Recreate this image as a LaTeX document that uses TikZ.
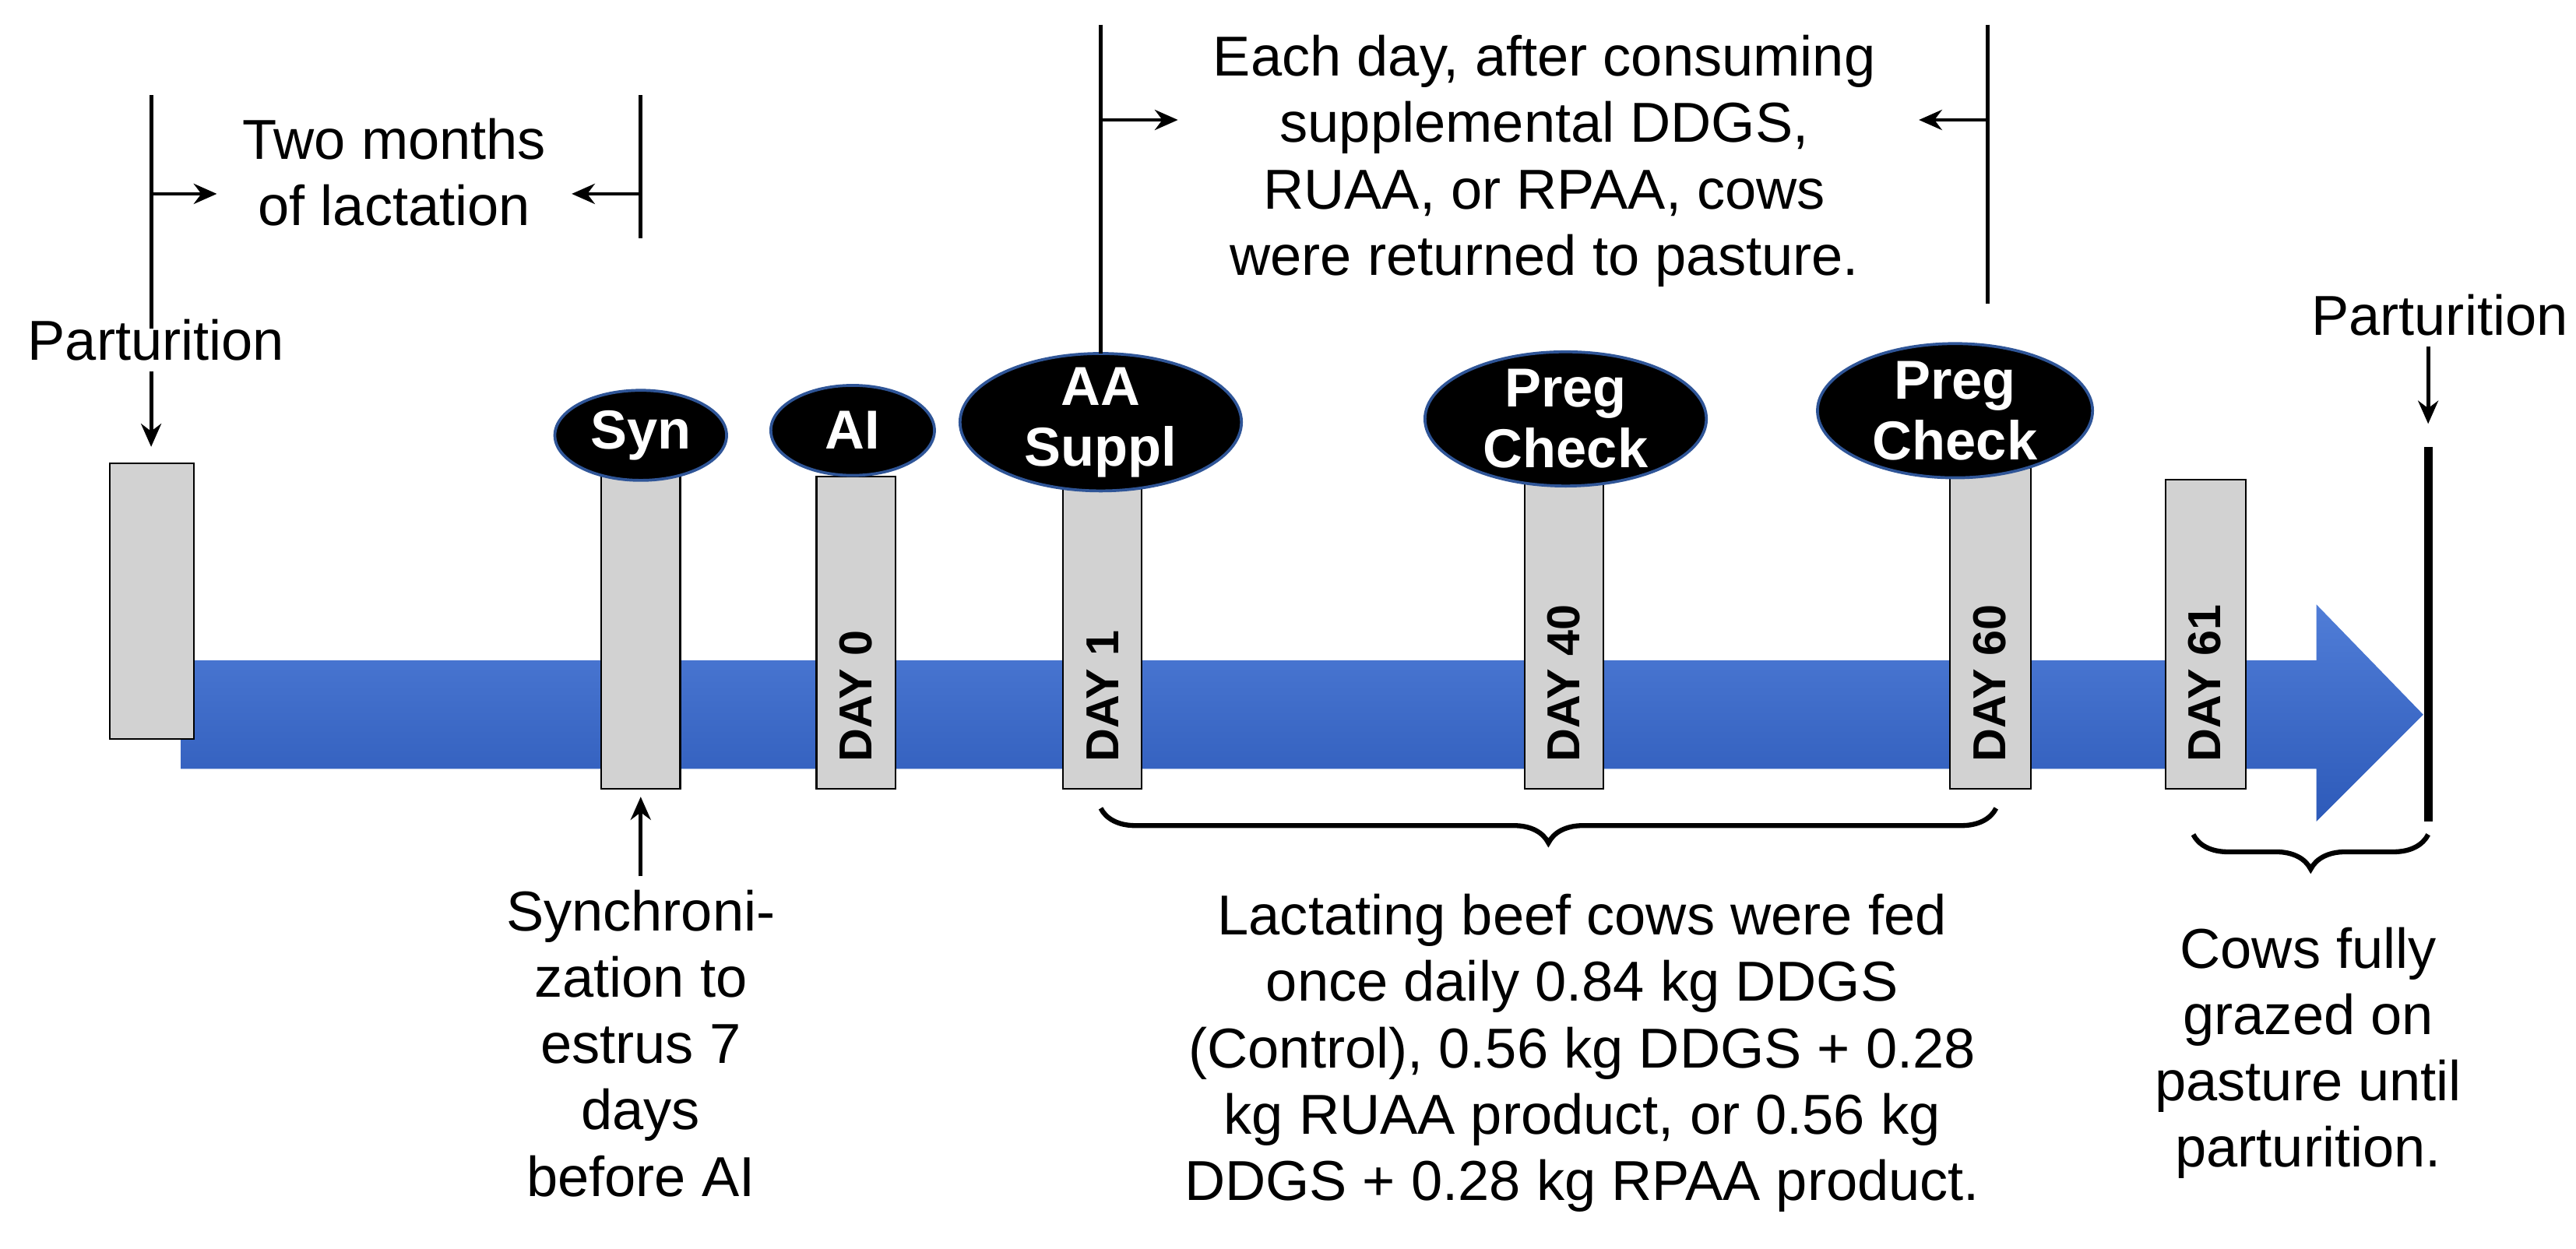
\documentclass[tikz,border=0pt]{standalone}
\usepackage{fontspec}
\setmainfont{Liberation Sans}
\usetikzlibrary{decorations.pathreplacing,arrows.meta,shapes.geometric}
\begin{document}
\begin{tikzpicture}[x=0.02cm,y=-0.02cm,
  txt/.style={font=\fontsize{19.5}{23}\selectfont,align=center},
  bar/.style={draw=black,fill=gray!35,line width=0.6pt},
  day/.style={rotate=90,anchor=west,font=\bfseries\fontsize{16}{18}\selectfont},
  oval/.style={ellipse,draw={rgb,255:red,47;green,85;blue,151},line width=1pt,fill=black,inner sep=0pt},
  ovtxt/.style={text=white,font=\bfseries\fontsize{19}{21}\selectfont,align=center,inner sep=0pt},
  ln/.style={line width=1.3pt},
  ar/.style={line width=1.3pt,-{Stealth[length=8pt,width=7pt]}},
  br/.style={decorate,decoration={brace,amplitude=12pt,mirror},line width=1.7pt}]
\useasboundingbox (0,0) rectangle (1568,760);
% blue arrow
\shade[top color={rgb,255:red,80;green,125;blue,215},bottom color={rgb,255:red,45;green,90;blue,185}]
 (110,402) -- (1410,402) -- (1410,368) -- (1475,435) -- (1410,500) -- (1410,468) -- (110,468) -- cycle;
% bars
\draw[bar] (67,282) rectangle (118,450);
\draw[bar] (366,285) rectangle (414,480);
\draw[bar] (497,290) rectangle (545,480); \node[day] (d0) at (521,470) {DAY 0};
\draw[bar] (647,283) rectangle (695,480); \node[day] (d1) at (671,470) {DAY 1};
\draw[bar] (928,290) rectangle (976,480); \node[day] (d40) at (952,470) {DAY 40};
\draw[bar] (1187,285) rectangle (1236,480); \node[day] (d60) at (1211,470) {DAY 60};
\draw[bar] (1318,292) rectangle (1367,480); \node[day] (d61) at (1342,470) {DAY 61};
\draw[line width=3pt] (1478,272) -- (1478,500);
% ovals
\node[oval,minimum width=59.5pt,minimum height=31.2pt] (syn) at (390,265) {};
\node[ovtxt] at (syn) {Syn};
\node[oval,minimum width=56.7pt,minimum height=31.2pt] (ai) at (519,262) {};
\node[ovtxt] at (ai) {AI};
\node[oval,minimum width=97.5pt,minimum height=47.6pt] (aa) at (670,257) {};
\node[ovtxt] at (aa) {AA\\Suppl};
\node[oval,minimum width=97.5pt,minimum height=46.5pt] (p1) at (953,255) {};
\node[ovtxt] at (p1) {Preg\\Check};
\node[oval,minimum width=95.3pt,minimum height=46.5pt] (p2) at (1190,250) {};
\node[ovtxt] at (p2) {Preg\\Check};
% parturition
\node[txt] (pl) at (95,207) {Parturition};
\coordinate (pla) at (92,272);
\draw[ar] (92,226) -- (pla);
\node[txt] (pr) at (1485,192) {Parturition};
\coordinate (pra) at (1478,258);
\draw[ar] (1478,211) -- (pra);
% top left bracket
\draw[ln] (92,58) -- (92,200);
\draw[ln] (390,58) -- (390,145);
\draw[ar] (92,118) -- (132,118);
\draw[ar] (390,118) -- (348,118);
\node[txt] (two) at (240,105) {Two months\\of lactation};
% top right bracket
\draw[ln] (670,15) -- (670,215);
\draw[ln] (1210,15) -- (1210,185);
\draw[ar] (670,73) -- (717,73);
\draw[ar] (1210,73) -- (1168,73);
\node[txt] (each) at (940,98) {Each day, after consuming\\supplemental DDGS,\\RUAA, or RPAA, cows\\were returned to pasture.};
% synchronization
\node[txt] (sync) at (390,635) {Synchroni-\\zation to\\estrus 7\\days\\before AI};
\draw[ar] (sync.north) ++(0,-2) -- (390,485);
% braces
\draw[br] (670,492) -- (1215,492);
\node[txt] (lact) at (963,641) {Lactating beef cows were fed\\once daily 0.84 kg DDGS\\(Control), 0.56 kg DDGS + 0.28\\kg RUAA product, or 0.56 kg\\DDGS + 0.28 kg RPAA product.};
\draw[br] (1335,508) -- (1478,508);
\node[txt] (cows) at (1405,641) {Cows fully\\grazed on\\pasture until\\parturition.};
\end{tikzpicture}
\end{document}
